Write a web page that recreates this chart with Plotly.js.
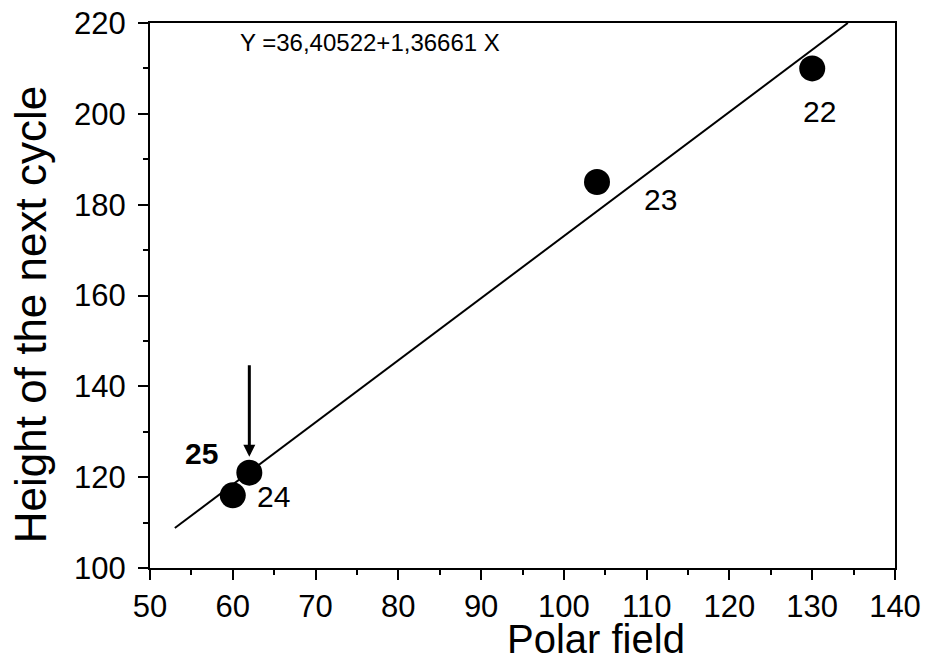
<!DOCTYPE html>
<html>
<head>
<meta charset="utf-8">
<script src="https://cdn.plot.ly/plotly-3.0.1.min.js"></script>
<style>
  html, body { margin: 0; padding: 0; background: #fff; }
  #chart { width: 927px; height: 662px; }
</style>
</head>
<body>
<div id="chart"></div>
<script>
// Data
const cycles = ['22', '23', '24', '25'];
const polarField = [130, 104, 60, 62];
const cycleHeight = [210, 185, 116, 121];

// Regression line Y = 36,40522 + 1,36661 X, drawn between its visible ends
const fitX = [53, 134.3];
const fitY = [108.8, 220];
const equationText = 'Y =36,40522+1,36661 X';

// Arrow pointing at cycle 25 (tail and tip, in data units)
const arrowTail = [62, 145];
const arrowTip = [62, 124.5];

const xTitle = 'Polar field';
const yTitle = 'Height of the next cycle';

const FONT = 'Liberation Sans, Arial, sans-serif';

const traces = [
  {
    x: fitX, y: fitY, type: 'scatter', mode: 'lines',
    line: { color: '#000', width: 2 }, hoverinfo: 'skip', showlegend: false
  },
  {
    x: polarField, y: cycleHeight, type: 'scatter', mode: 'markers',
    marker: { color: '#000', size: 26, line: { width: 0 } },
    showlegend: false
  }
];

// label offsets (pixels) per cycle
const labelStyle = {
  '22': { xshift: 7, yshift: -43, bold: false },
  '23': { xshift: 63, yshift: -18, bold: false },
  '24': { xshift: 41, yshift: -1, bold: false },
  '25': { xshift: -48, yshift: 19, bold: true }
};

const annotations = cycles.map((c, i) => ({
  x: polarField[i], y: cycleHeight[i], xref: 'x', yref: 'y',
  text: labelStyle[c].bold ? '<b>' + c + '</b>' : c,
  showarrow: false, xanchor: 'center', yanchor: 'middle',
  xshift: labelStyle[c].xshift, yshift: labelStyle[c].yshift,
  font: { family: FONT, size: 30, color: '#000' }
}));

annotations.push({
  x: arrowTip[0], y: arrowTip[1], xref: 'x', yref: 'y',
  ax: arrowTail[0], ay: arrowTail[1], axref: 'x', ayref: 'y',
  showarrow: true, arrowhead: 2, arrowsize: 0.8, arrowwidth: 3,
  arrowcolor: '#000', text: ''
});

annotations.push({
  x: 60.6, y: 215.6, xref: 'x', yref: 'y',
  text: equationText, showarrow: false, xanchor: 'left', yanchor: 'middle',
  font: { family: FONT, size: 24, color: '#000' }
});

annotations.push({
  x: 0.599, y: -0.13, xref: 'paper', yref: 'paper',
  text: xTitle, showarrow: false, xanchor: 'center', yanchor: 'middle',
  font: { family: FONT, size: 40, color: '#000' }
});

annotations.push({
  x: -0.161, y: 0.464, xref: 'paper', yref: 'paper',
  text: yTitle, showarrow: false, xanchor: 'center', yanchor: 'middle',
  textangle: -90,
  font: { family: FONT, size: 44, color: '#000' }
});

const axisCommon = {
  showgrid: false, zeroline: false, showline: true, linecolor: '#000', linewidth: 2,
  mirror: true, ticks: 'outside', ticklen: 10, tickwidth: 2, tickcolor: '#000',
  tickfont: { family: FONT, size: 31, color: '#000' }
};

const layout = {
  width: 927, height: 662,
  margin: { l: 150, r: 32, t: 23, b: 94, pad: 0 },
  paper_bgcolor: '#fff', plot_bgcolor: '#fff',
  font: { family: FONT, color: '#000' },
  showlegend: false,
  xaxis: Object.assign({}, axisCommon, {
    range: [50, 140], tick0: 50, dtick: 10,
    minor: { ticks: 'outside', dtick: 5, ticklen: 5, tickwidth: 2, tickcolor: '#000', showgrid: false }
  }),
  yaxis: Object.assign({}, axisCommon, {
    range: [100, 220], tick0: 100, dtick: 20, ticklabelstandoff: 6,
    minor: { ticks: 'outside', dtick: 10, ticklen: 5, tickwidth: 2, tickcolor: '#000', showgrid: false }
  }),
  annotations: annotations
};

Plotly.newPlot('chart', traces, layout, { displayModeBar: false, staticPlot: true });
</script>
</body>
</html>
